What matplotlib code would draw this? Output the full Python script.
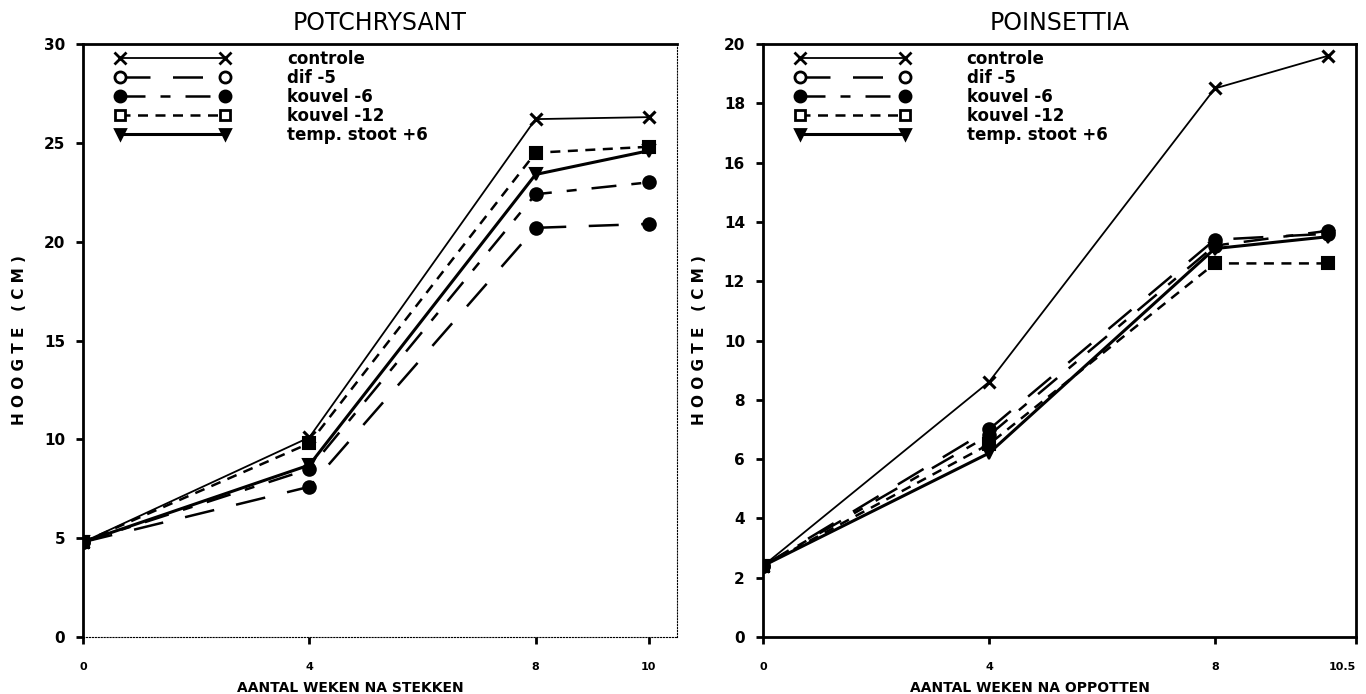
import matplotlib
matplotlib.use("Agg")
import matplotlib.pyplot as plt
from matplotlib.lines import Line2D

# data
weeks_chrys = [0, 4, 8, 10]
chrys_controle = [4.8, 10.1, 26.2, 26.3]
chrys_dif5 = [4.8, 7.6, 20.7, 20.9]
chrys_kouvel6 = [4.8, 8.5, 22.4, 23.0]
chrys_kouvel12 = [4.8, 9.8, 24.5, 24.8]
chrys_stoot6 = [4.8, 8.7, 23.4, 24.6]

weeks_poins = [0, 4, 8, 10]
poins_controle = [2.4, 8.6, 18.5, 19.6]
poins_dif5 = [2.4, 7.0, 13.4, 13.6]
poins_kouvel6 = [2.4, 6.8, 13.2, 13.7]
poins_kouvel12 = [2.4, 6.5, 12.6, 12.6]
poins_stoot6 = [2.4, 6.2, 13.1, 13.5]

labels = ["controle", "dif -5", "kouvel -6", "kouvel -12", "temp. stoot +6"]

# stijlen per behandeling
styles = [
    dict(marker="x", dashes=[], lw=1.3, ms=9, mew=2.2),
    dict(marker="o", dashes=[12, 9], lw=1.8, ms=9, mew=1.5),
    dict(marker="o", dashes=[10, 6, 4, 6], lw=1.8, ms=9, mew=1.5),
    dict(marker="s", dashes=[4, 3], lw=1.8, ms=8, mew=1.5),
    dict(marker="v", dashes=[], lw=2.2, ms=8, mew=1.5),
]
open_marker = [False, True, False, True, False]

plt.rcParams["font.family"] = ["DejaVu Sans"]

fig = plt.figure(figsize=(13.66, 6.94), dpi=100)
ax1 = fig.add_axes([0.0608, 0.0821, 0.4348, 0.8545])
ax2 = fig.add_axes([0.5586, 0.0821, 0.4341, 0.8545])


def draw_panel(ax, x, series, title, xlabel, ymax, ystep, xticks, xticklabels):
    for y, st in zip(series, styles):
        ax.plot(x, y, color="black", marker=st["marker"], dashes=st["dashes"],
                lw=st["lw"], ms=st["ms"], mew=st["mew"], mfc="black", mec="black")
    ax.set_xlim(0, 10.5)
    ax.set_ylim(0, ymax)
    ax.set_xticks(xticks)
    ax.set_xticklabels(xticklabels, fontsize=8, fontweight="bold")
    ax.set_yticks(range(0, ymax + 1, ystep))
    ax.set_yticklabels([str(v) for v in range(0, ymax + 1, ystep)],
                       fontsize=11, fontweight="bold")
    ax.tick_params(direction="out", length=5, width=2, pad=8)
    ax.tick_params(axis="x", pad=13)
    ax.set_xlabel(xlabel, fontsize=10, fontweight="bold")
    ax.xaxis.set_label_coords(0.45, -0.075)
    ax.set_ylabel("H O O G T E   ( C M )", fontsize=11, fontweight="bold", labelpad=12)
    ax.text(0.5, 1.015, title, transform=ax.transAxes, ha="center", va="bottom",
            fontsize=17)

    handles = []
    for st, op in zip(styles, open_marker):
        handles.append(Line2D([], [], color="black", marker=st["marker"],
                              dashes=st["dashes"], lw=st["lw"], ms=st["ms"] - 1,
                              mew=2, mec="black",
                              mfc="white" if op else "black"))
    ax.legend(handles, labels, loc="upper left", bbox_to_anchor=(0.054, 0.99),
              frameon=False, handlelength=6.9, handletextpad=3.4,
              labelspacing=0.06, borderpad=0, borderaxespad=0, numpoints=2,
              prop=dict(weight="bold", size=12))


draw_panel(ax1, weeks_chrys,
           [chrys_controle, chrys_dif5, chrys_kouvel6, chrys_kouvel12, chrys_stoot6],
           "POTCHRYSANT", "AANTAL WEKEN NA STEKKEN", 30, 5,
           [0, 4, 8, 10], ["0", "4", "8", "10"])
draw_panel(ax2, weeks_poins,
           [poins_controle, poins_dif5, poins_kouvel6, poins_kouvel12, poins_stoot6],
           "POINSETTIA", "AANTAL WEKEN NA OPPOTTEN", 20, 2,
           [0, 4, 8, 10.5], ["0", "4", "8", "10.5"])

# laatste label iets naar links zodat het binnen de figuur valt
ax2.get_xticklabels()[-1].set_horizontalalignment("right")
ax2.get_xticklabels()[-1].set_x(10.7)

for ax in (ax1, ax2):
    for s in ax.spines.values():
        s.set_linewidth(2)
# linker paneel: onder- en rechterrand vaag
for side in ("bottom", "right"):
    ax1.spines[side].set_linewidth(0.8)
    ax1.spines[side].set_linestyle(":")

fig.savefig("out.png", dpi=100)
